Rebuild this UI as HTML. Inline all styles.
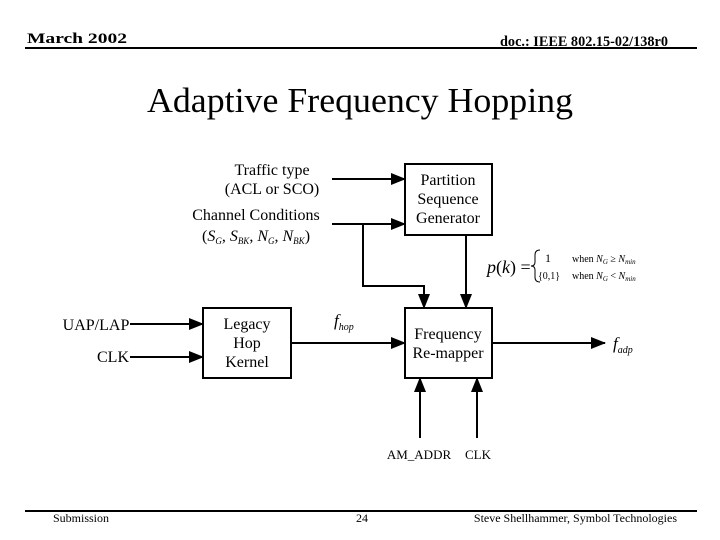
<!DOCTYPE html>
<html><head><style>
body{margin:0;width:720px;height:540px;background:#fff;overflow:hidden;}
svg{display:block}
</style></head><body>
<svg width="720" height="540" viewBox="0 0 720 540" xmlns="http://www.w3.org/2000/svg" font-family="Liberation Serif, serif">
<defs><marker id="a" markerWidth="15" markerHeight="12" refX="14" refY="6" orient="auto" markerUnits="userSpaceOnUse"><path d="M0,0 L15,6 L0,12 z" fill="#000"/></marker></defs>
<text x="27" y="43" font-size="15" font-weight="bold" textLength="100" lengthAdjust="spacingAndGlyphs">March 2002</text>
<text x="500" y="46" font-size="15" font-weight="bold" textLength="168" lengthAdjust="spacingAndGlyphs">doc.: IEEE 802.15-02/138r0</text>
<line x1="25" y1="48" x2="697" y2="48" stroke="#000" stroke-width="2"/>
<text x="360" y="112" font-size="35" text-anchor="middle" textLength="426" lengthAdjust="spacingAndGlyphs">Adaptive Frequency Hopping</text>
<g stroke="#000" stroke-width="2" fill="none">
<rect x="405" y="164" width="87" height="71"/>
<rect x="405" y="308" width="87" height="70"/>
<rect x="203" y="308" width="88" height="70"/>
<line x1="332" y1="179" x2="405" y2="179" marker-end="url(#a)"/>
<line x1="332" y1="224" x2="405" y2="224" marker-end="url(#a)"/>
<polyline points="363,224 363,286 424,286 424,308" marker-end="url(#a)"/>
<line x1="466" y1="235" x2="466" y2="308" marker-end="url(#a)"/>
<line x1="291" y1="343" x2="405" y2="343" marker-end="url(#a)"/>
<line x1="492" y1="343" x2="605" y2="343" marker-end="url(#a)"/>
<line x1="130" y1="324" x2="203" y2="324" marker-end="url(#a)"/>
<line x1="130" y1="357" x2="203" y2="357" marker-end="url(#a)"/>
<line x1="420" y1="438" x2="420" y2="378" marker-end="url(#a)"/>
<line x1="477" y1="438" x2="477" y2="378" marker-end="url(#a)"/>
</g>
<g font-size="16" text-anchor="middle">
<text x="272" y="175">Traffic type</text>
<text x="272" y="194">(ACL or SCO)</text>
<text x="256" y="220">Channel Conditions</text>
<text x="256" y="241">(<tspan font-style="italic">S<tspan font-size="9" dy="3">G</tspan></tspan><tspan dy="-3">, </tspan><tspan font-style="italic">S<tspan font-size="9" dy="3">BK</tspan></tspan><tspan dy="-3">, </tspan><tspan font-style="italic">N<tspan font-size="9" dy="3">G</tspan></tspan><tspan dy="-3">, </tspan><tspan font-style="italic">N<tspan font-size="9" dy="3">BK</tspan></tspan><tspan dy="-3">)</tspan></text>
<text x="448" y="185">Partition</text>
<text x="448" y="204">Sequence</text>
<text x="448" y="223">Generator</text>
<text x="448" y="339">Frequency</text>
<text x="448" y="358">Re-mapper</text>
<text x="247" y="329">Legacy</text>
<text x="247" y="348">Hop</text>
<text x="247" y="367">Kernel</text>
<text x="96" y="330">UAP/LAP</text>
<text x="113" y="362">CLK</text>
<text x="419" y="459" font-size="13">AM_ADDR</text>
<text x="478" y="459" font-size="13">CLK</text>
</g>
<text x="334" y="326" font-size="17" font-style="italic">f<tspan font-size="10" dy="4">hop</tspan></text>
<text x="613" y="349" font-size="17" font-style="italic">f<tspan font-size="10" dy="4">adp</tspan></text>
<text x="487" y="273" font-size="18" font-style="italic">p<tspan font-style="normal">(</tspan>k<tspan font-style="normal">) =</tspan></text>
<path d="M540,250 Q535,250 535,255 L535,262 Q535,266 531,266 Q535,266 535,270 L535,277 Q535,282 540,282" stroke="#000" stroke-width="1" fill="none"/>
<text x="545" y="262" font-size="12">1</text>
<text x="538" y="279" font-size="10">{0,1}</text>
<text x="572" y="262" font-size="10">when <tspan font-style="italic">N<tspan font-size="7" dy="2">G</tspan></tspan><tspan dy="-2"> ≥ </tspan><tspan font-style="italic">N<tspan font-size="7" dy="2">min</tspan></tspan></text>
<text x="572" y="279" font-size="10">when <tspan font-style="italic">N<tspan font-size="7" dy="2">G</tspan></tspan><tspan dy="-2"> &lt; </tspan><tspan font-style="italic">N<tspan font-size="7" dy="2">min</tspan></tspan></text>
<line x1="25" y1="511" x2="697" y2="511" stroke="#000" stroke-width="2"/>
<text x="53" y="522" font-size="12">Submission</text>
<text x="362" y="522" font-size="12" text-anchor="middle">24</text>
<text x="677" y="522" font-size="12" text-anchor="end">Steve Shellhammer, Symbol Technologies</text>
</svg>
</body></html>
